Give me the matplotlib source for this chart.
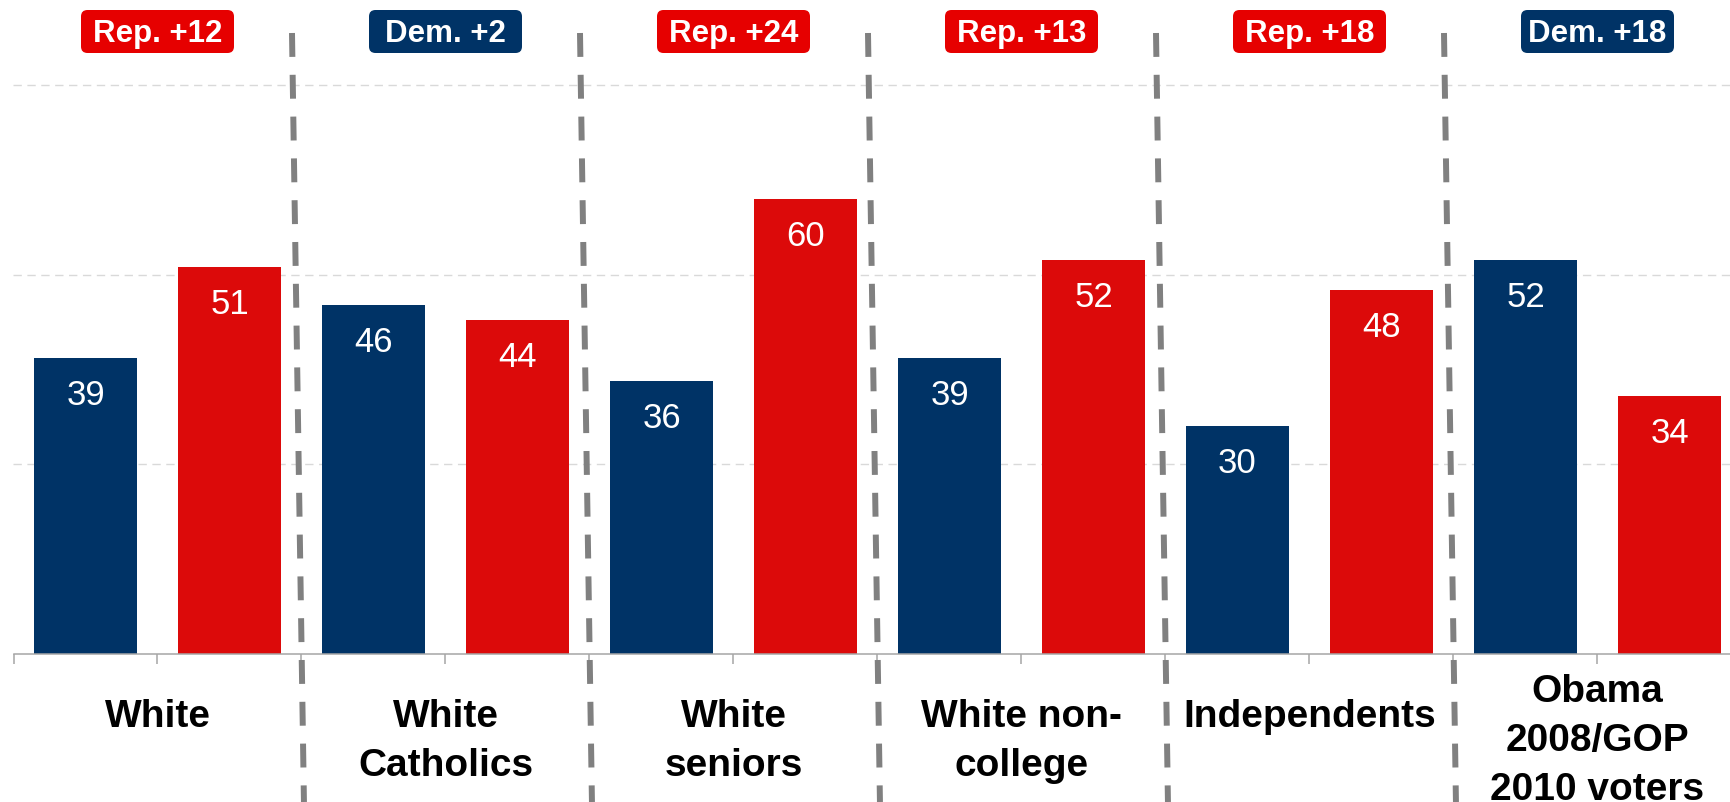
import matplotlib
matplotlib.use("Agg")
import matplotlib.pyplot as plt
from matplotlib.patches import FancyBboxPatch
from matplotlib.transforms import blended_transform_factory

# ---- Data ----
groups = ["White", "White\nCatholics", "White\nseniors", "White non-\ncollege",
          "Independents", "Obama\n2008/GOP\n2010 voters"]
dem = [39, 46, 36, 39, 30, 52]
rep = [51, 44, 60, 52, 48, 34]

# ---- Style ----
plt.rcParams.update({"font.family": ["Liberation Sans", "DejaVu Sans"]})

BLUE = "#003366"
RED = "#DC0A0A"
TAG_RED = "#E60000"
AXIS_GRAY = "#A6A6A6"
SEP_GRAY = "#808080"
GRID = "#D9D9D9"

W, H, DPI = 1731, 802, 100
SLOT = 144.0      # px per bar slot
BASE = 653.5      # baseline, px from top
UNIT = 7.575      # px per percentage point

fig = plt.figure(figsize=(W / DPI, H / DPI), dpi=DPI)
ax = fig.add_axes([13.5 / W, (H - BASE) / H, 12 * SLOT / W, BASE / H])
trans = blended_transform_factory(ax.transData, ax.transAxes)

def ay(px):
    # pixel row (from top of image) -> axes fraction
    return (BASE - px) / BASE

n = len(groups)
xb = [2 * i for i in range(n)]
xr = [2 * i + 1 for i in range(n)]
ax.bar(xb, dem, width=0.71, color=BLUE, zorder=2)
ax.bar(xr, rep, width=0.71, color=RED, zorder=2)

for x, v in zip(xb + xr, dem + rep):
    ax.annotate(f"{v}", (x, v), xytext=(0, -33.8), textcoords="offset points",
                ha="center", va="baseline", color="white", fontsize=25, zorder=4)

# grid + axis
ax.set_yticks([25, 50, 75])
ax.yaxis.grid(True, color=GRID, lw=1, linestyle=(0, (6, 4)))
ax.set_axisbelow(True)
ax.tick_params(axis="y", length=0, labelleft=False)
for s in ["left", "top", "right"]:
    ax.spines[s].set_visible(False)
ax.spines["bottom"].set_color(AXIS_GRAY)
ax.spines["bottom"].set_linewidth(1.1)
ax.set_xticks([i - 0.5 for i in range(2 * n + 1)])
ax.tick_params(axis="x", length=7.2, width=1.1, color=AXIS_GRAY,
               labelbottom=False, direction="out")

# dashed group separators (slightly slanted like the original)
for i in range(1, n):
    b = 2 * i - 0.5
    ax.plot([b - 0.066, b + 0.017], [ay(33), ay(802)], transform=trans,
            color=SEP_GRAY, lw=4.3, linestyle=(0, (4, 3)), clip_on=False, zorder=3)

# margin tags
aspect = SLOT / BASE
box_w = 153 / SLOT
for i, (d, r) in enumerate(zip(dem, rep)):
    cx = 2 * i + 0.5
    if r > d:
        txt, col = f"Rep. +{r - d}", TAG_RED
    else:
        txt, col = f"Dem. +{d - r}", BLUE
    box = FancyBboxPatch((cx - box_w / 2, ay(53)), box_w, 43 / BASE,
                         boxstyle="round,pad=0,rounding_size=0.045",
                         mutation_aspect=aspect, transform=trans,
                         facecolor=col, edgecolor="none", clip_on=False, zorder=5)
    ax.add_patch(box)
    ax.text(cx, ay(42), txt, transform=trans, ha="center", va="baseline",
            color="white", fontsize=22.5, fontweight="bold", zorder=6)

# group labels under the axis
step = 49 / BASE
for i, g in enumerate(groups):
    lines = g.split("\n")
    y0 = ay(727) + max(0, len(lines) - 2) * step / 2
    for k, line in enumerate(lines):
        ax.text(2 * i + 0.5, y0 - k * step, line, transform=trans, ha="center",
                va="baseline", fontsize=28, fontweight="bold", clip_on=False)

ax.set_xlim(-0.5, 11.5)
ax.set_ylim(0, BASE / UNIT)

fig.savefig("out.png", dpi=DPI, facecolor="white")
